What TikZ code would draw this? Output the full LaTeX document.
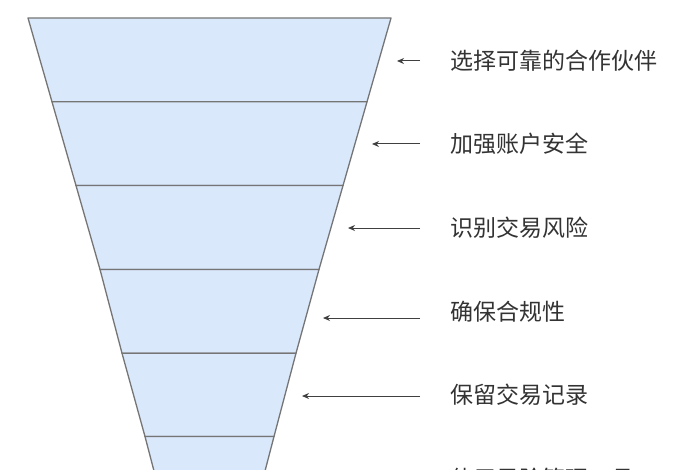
\documentclass[tikz,border=0pt]{standalone}
\usepackage{fontspec}
\setmainfont{Noto Sans CJK SC}
\usetikzlibrary{arrows.meta}
\definecolor{bandfill}{HTML}{DAE8FC}
\definecolor{bandline}{HTML}{757575}
\definecolor{labeltext}{HTML}{333333}
\definecolor{pointerline}{HTML}{404040}
\begin{document}
\begin{tikzpicture}[x=1pt,y=-1pt,
    band/.style={fill=bandfill, draw=bandline, line width=1.3pt, line join=round},
    lbl/.style={anchor=west, inner sep=0pt, text=labeltext, font=\fontsize{23pt}{28pt}\selectfont},
    pointer/.style={-{Stealth[length=7pt,width=6pt]}, draw=pointerline, line width=1pt}]

    \clip (0,0) rectangle (700,470);
    \fill[white] (0,0) rectangle (700,470);

    % funnel, widest band on top
    \draw[band] (28,18) -- (391,18) -- (367,101.8) -- (52,101.8) -- cycle;
    \draw[band] (52,101.8) -- (367,101.8) -- (343,185.6) -- (76,185.6) -- cycle;
    \draw[band] (76,185.6) -- (343,185.6) -- (319,269.4) -- (100,269.4) -- cycle;
    \draw[band] (100,269.4) -- (319,269.4) -- (296,353.2) -- (122,353.2) -- cycle;
    \draw[band] (122,353.2) -- (296,353.2) -- (274,436.5) -- (145,436.5) -- cycle;
    \draw[band] (145,436.5) -- (274,436.5) -- (252,520.8) -- (167,520.8) -- cycle;

    \node(partner)[lbl] at (450,61) {选择可靠的合作伙伴};
    \node(account)[lbl] at (450,144) {加强账户安全};
    \node(risk)[lbl] at (450,228) {识别交易风险};
    \node(comply)[lbl] at (450,312) {确保合规性};
    \node(records)[lbl] at (450,395) {保留交易记录};
    \node(tools)[lbl] at (450,479) {使用风险管理工具};

    \coordinate (tail-1) at (420,61);  \coordinate (tip-1) at (397,61);
    \coordinate (tail-2) at (420,144); \coordinate (tip-2) at (372,144);
    \coordinate (tail-3) at (420,228); \coordinate (tip-3) at (348,228);
    \coordinate (tail-4) at (420,318); \coordinate (tip-4) at (323,318);
    \coordinate (tail-5) at (420,396); \coordinate (tip-5) at (302,396);

    \draw[pointer] (tail-1) -- (tip-1);
    \draw[pointer] (tail-2) -- (tip-2);
    \draw[pointer] (tail-3) -- (tip-3);
    \draw[pointer] (tail-4) -- (tip-4);
    \draw[pointer] (tail-5) -- (tip-5);
\end{tikzpicture}
\end{document}
